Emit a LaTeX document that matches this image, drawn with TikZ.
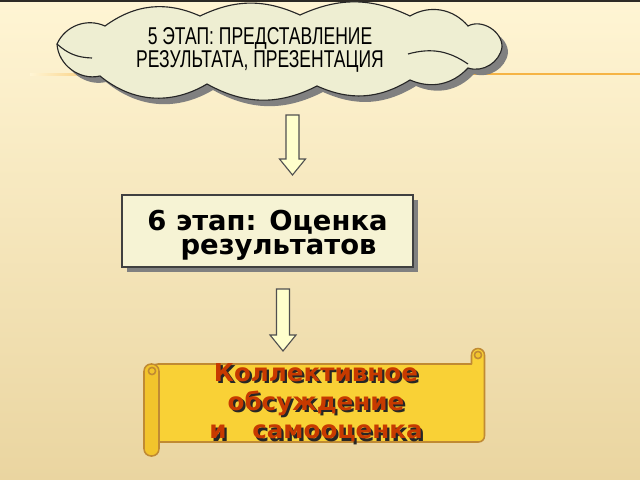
\documentclass[tikz,border=0pt]{standalone}
\usepackage{fontspec}
\setmainfont{DejaVu Sans}
\newfontfamily\cloudfont[FakeStretch=0.72]{Liberation Sans}
\usetikzlibrary{shadows}
\definecolor{bgtop}{HTML}{FFF5D4}
\definecolor{bgbot}{HTML}{EAD5A0}
\definecolor{topband}{HTML}{2E2B26}
\definecolor{ruleorange}{HTML}{F6B445}
\definecolor{cloudfill}{HTML}{EEEED2}
\definecolor{stagefill}{HTML}{F6F3D4}
\definecolor{stageedge}{HTML}{404040}
\definecolor{arrowfill}{HTML}{FFFFCC}
\definecolor{arrowedge}{HTML}{505050}
\definecolor{scrollgold}{HTML}{F9D136}
\definecolor{rollgold}{HTML}{F2C42C}
\definecolor{scrolledge}{HTML}{C08A33}
\definecolor{scrollred}{HTML}{C73A00}
\tikzset{%
	cloudshape/.style={insert path={(57,44) to[bend left=45] (105,26) to[bend left=30] (200,16)
		to[bend left=25] (300,15) to[bend left=25] (410,16) to[bend left=40] (468,26)
		to[bend left=60] (502,47) to[bend left=50] (468,68) to[bend left=35] (410,80)
		to[bend left=28] (317,86) to[bend left=28] (207,84) to[bend left=35] (100,76)
		to[bend left=50] (57,44) -- cycle}},
	phase/.style={draw=black!85, fill=cloudfill, line width=0.8pt},
	phasetext/.style={align=center, font=\cloudfont\fontsize{17.3}{15.8}\selectfont, text=black},
	stage/.style={draw=stageedge, line width=1pt, fill=stagefill, minimum width=7.275cm,%
		minimum height=1.8cm, align=center, font=\fontsize{19.5}{17.5}\selectfont\bfseries,%
		drop shadow={shadow xshift=0.13cm, shadow yshift=-0.13cm, fill=black!50, opacity=1}},
	blockarr/.style={draw=arrowedge, fill=arrowfill, line width=0.8pt},
	scroll/.style={draw=scrolledge, fill=scrollgold, line width=1.1pt, line join=round},
	roll/.style={draw=scrolledge, fill=rollgold, line width=1.1pt},
	scrolltext/.style={align=center, font=\fontsize{17.5}{20.5}\selectfont\bfseries}
}
\newcommand{\blockdown}[3]{%
	\draw[blockarr] (#1-6.5,#2) -- (#1+6.5,#2) -- (#1+6.5,#3-16) -- (#1+13,#3-16)
		-- (#1,#3) -- (#1-13,#3-16) -- (#1-6.5,#3-16) -- cycle;}
\newcommand{\shtext}[1]{\leavevmode\rlap{\kern1.6pt\raisebox{-1.6pt}{\color{black!85}#1}}{\color{scrollred}#1}}

\begin{document}
\begin{tikzpicture}[x=0.025cm, y=-0.025cm]
	\useasboundingbox (0,0) rectangle (640,480);
	\shade[top color=bgtop, bottom color=bgbot] (0,0) rectangle (640,480);
	\fill[topband] (0,0) rectangle (640,2.5);
	\shade[left color=bgtop, right color=ruleorange] (30,73) rectangle (130,75);
	\fill[ruleorange] (130,73) rectangle (640,75);

	% cloud
	\fill[black!50, shift={(6,6)}, cloudshape];
	\path[phase, cloudshape];
	\draw[phase, fill=none] (57,44) to[bend right=20] (92,58);
	\draw[phase, fill=none] (408,54) to[bend left=25] (468,64);
	\node[phasetext] (stage5) at (260,50) {5 ЭТАП: ПРЕДСТАВЛЕНИЕ\\РЕЗУЛЬТАТА, ПРЕЗЕНТАЦИЯ};

	\blockdown{292.5}{115}{175}

	\node[stage] (stage6) at (267.5,231) {\rule{0pt}{20.5pt}6 этап: Оценка\\\hspace*{0.55cm}результатов};

	\blockdown{283}{289}{351}

	% scroll
	\path[scroll] (152,364) -- (471.5,364) -- (471.5,355)
		arc[start angle=180, end angle=0, radius=0.1625cm]
		[rounded corners=0.15cm] -- (484.5,442) -- (152,442) -- cycle;
	\draw[roll] (478,355) circle[radius=0.09cm];
	\draw[roll, rounded corners=0.18cm] (144,364) rectangle (159,456);
	\draw[roll] (152,371) circle[radius=0.09cm];
	\node[scrolltext] (review) at (316,404) {\shtext{Коллективное}\\\shtext{обсуждение}\\\shtext{и\ \ \ самооценка}};
\end{tikzpicture}
\end{document}
